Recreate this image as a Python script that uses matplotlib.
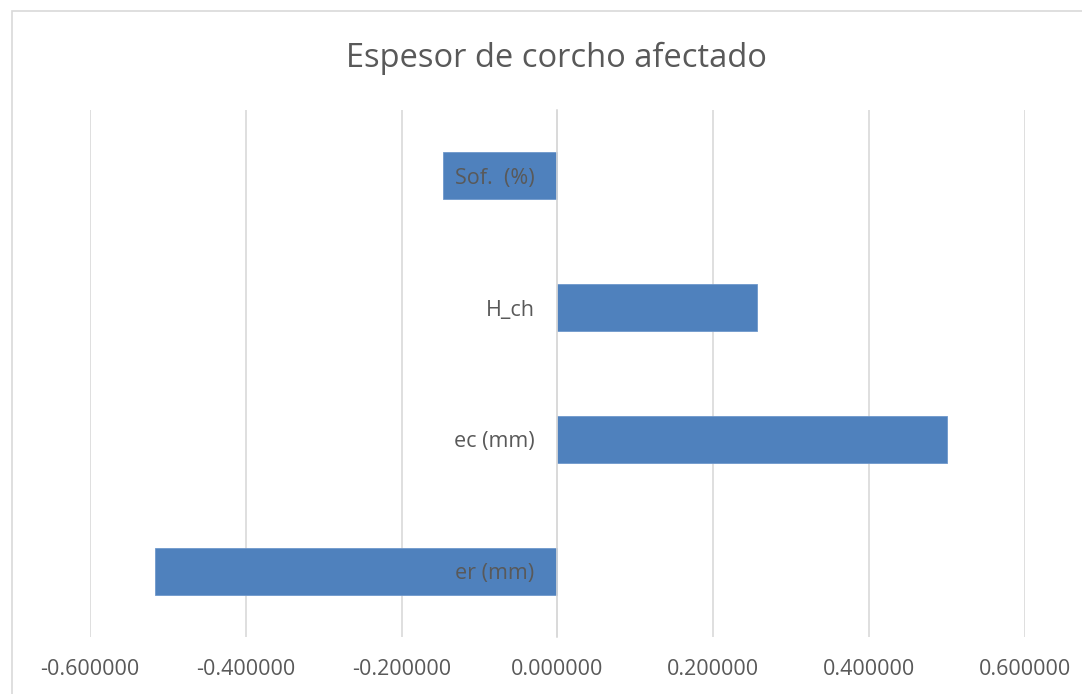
import numpy as np
import matplotlib.pyplot as plt
from matplotlib.patches import Rectangle

# categories from bottom to top, as drawn
categorias = ['er (mm)', 'ec (mm)', 'H_ch', 'Sof.  (%)']
valores = [-0.5165, 0.500, 0.2555, -0.1465]
ticks_x = [-0.6, -0.4, -0.2, 0.0, 0.2, 0.4, 0.6]

gris_texto = '#595959'
gris_linea = '#d9d9d9'
azul = '#4f81bd'

plt.rcParams['font.family'] = ['Open Sans', 'DejaVu Sans']

fig = plt.figure(figsize=(10.82, 6.94), dpi=100)
W, H = 1082, 694

# marco exterior del grafico
fig.patches.append(Rectangle((12 / W, -0.1), 1.2, 1 - 11 / H + 0.1,
                             transform=fig.transFigure, fill=False,
                             edgecolor=gris_linea, linewidth=1.2))

ax = fig.add_axes([90 / W, 1 - 637 / H, (1025 - 90) / W, (637 - 110) / H])

y = np.arange(len(categorias))
ax.barh(y, valores, height=0.357, color=azul, edgecolor='#6f98cc',
        linewidth=0.6, zorder=1)

ax.set_xlim(-0.6, 0.6)
ax.set_ylim(-0.5, len(categorias) - 0.5)
ax.set_xticks(ticks_x)
ax.set_xticklabels(['%.6f' % t for t in ticks_x])
ax.set_yticks(y)
ax.set_yticklabels(categorias)

ax.grid(axis='x', color=gris_linea, linewidth=1.2)
ax.grid(axis='y', visible=False)

for s in ['top', 'right', 'bottom']:
    ax.spines[s].set_visible(False)
ax.spines['left'].set_position(('data', 0))
ax.spines['left'].set_color(gris_linea)
ax.spines['left'].set_linewidth(1.2)

ax.tick_params(axis='x', length=0, pad=15.5, labelsize=15.5, labelcolor=gris_texto)
ax.tick_params(axis='y', length=0, pad=16.5, labelsize=15.5, labelcolor=gris_texto)

# grid bajo las barras, etiquetas de categoria encima
ax.xaxis.set_zorder(0.5)
ax.yaxis.set_zorder(3)
ax.spines['left'].set_zorder(2)

fig.text(556 / W, 1 - 58 / H, 'Espesor de corcho afectado', ha='center',
         va='center', fontsize=23.5, color=gris_texto)

fig.savefig('out.png', dpi=100)
